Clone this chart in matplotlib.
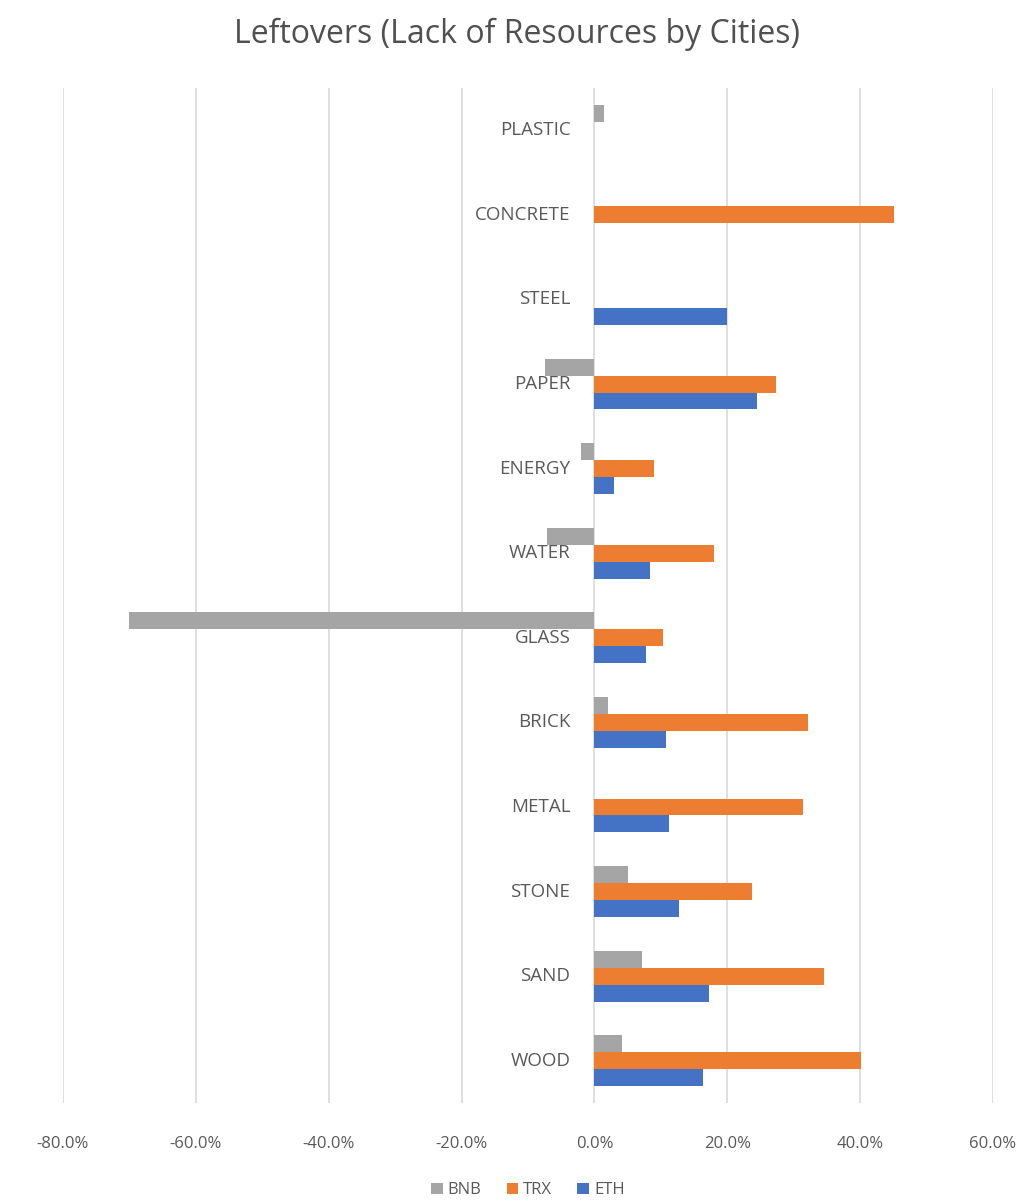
import matplotlib
matplotlib.use("Agg")
import matplotlib.pyplot as plt
import matplotlib.transforms as mtransforms
from matplotlib.ticker import FuncFormatter
import numpy as np

plt.rcParams['font.family'] = ['Open Sans', 'DejaVu Sans']

# categories bottom to top
categories = ["WOOD", "SAND", "STONE", "METAL", "BRICK", "GLASS",
              "WATER", "ENERGY", "PAPER", "STEEL", "CONCRETE", "PLASTIC"]

# values in percent (0 = no bar)
eth = [16.3, 17.2, 12.8, 11.2, 10.7, 7.8, 8.3, 3.0, 24.4, 20.0, 0, 0]
trx = [40.1, 34.5, 23.7, 31.4, 32.1, 10.3, 18.0, 9.0, 27.3, 0, 45.1, 0]
bnb = [4.2, 7.1, 5.0, 0, 2.1, -70.0, -7.2, -2.0, -7.5, 0, 0, 1.4]

C_BNB = "#A5A5A5"
C_TRX = "#ED7D31"
C_ETH = "#4472C4"
TXT = "#595959"

fig = plt.figure(figsize=(10.35, 12.01), dpi=100)
ax = fig.add_axes([0.0609, 0.0816, 0.8985, 0.8451])

y = np.arange(len(categories))
h = 0.2
ax.barh(y - h, eth, height=h, color=C_ETH, label="ETH", zorder=3)
ax.barh(y, trx, height=h, color=C_TRX, label="TRX", zorder=3)
ax.barh(y + h, bnb, height=h, color=C_BNB, label="BNB", zorder=3)

ax.set_xlim(-80, 60)
ax.set_ylim(-0.5, len(categories) - 0.5)
ax.set_xticks(np.arange(-80, 61, 20))
ax.xaxis.set_major_formatter(FuncFormatter(lambda v, p: f"{v:.1f}%"))
ax.tick_params(axis="x", length=0, labelsize=12, labelcolor=TXT, pad=24)
ax.set_yticks([])
ax.grid(axis="x", color="#D9D9D9", linewidth=1.2, zorder=0)
for s in ax.spines.values():
    s.set_visible(False)

# category labels next to zero line
offset = mtransforms.offset_copy(ax.transData, fig=fig, x=-24, y=0, units="dots")
for yi, name in zip(y, categories):
    ax.text(0, yi, name, transform=offset, ha="right", va="center",
            fontsize=13.5, color=TXT)

fig.text(0.5, 0.971, "Leftovers (Lack of Resources by Cities)",
         ha="center", va="center", fontsize=23, color="#505050")

handles, labels = ax.get_legend_handles_labels()
order = [2, 1, 0]
fig.legend([handles[i] for i in order], [labels[i] for i in order],
           loc="center", bbox_to_anchor=(0.51, 0.009), ncol=3, frameon=False,
           fontsize=12, labelcolor=TXT, handlelength=0.7, handleheight=0.7,
           handletextpad=0.3, columnspacing=1.5)

fig.savefig("out.png", dpi=100)
